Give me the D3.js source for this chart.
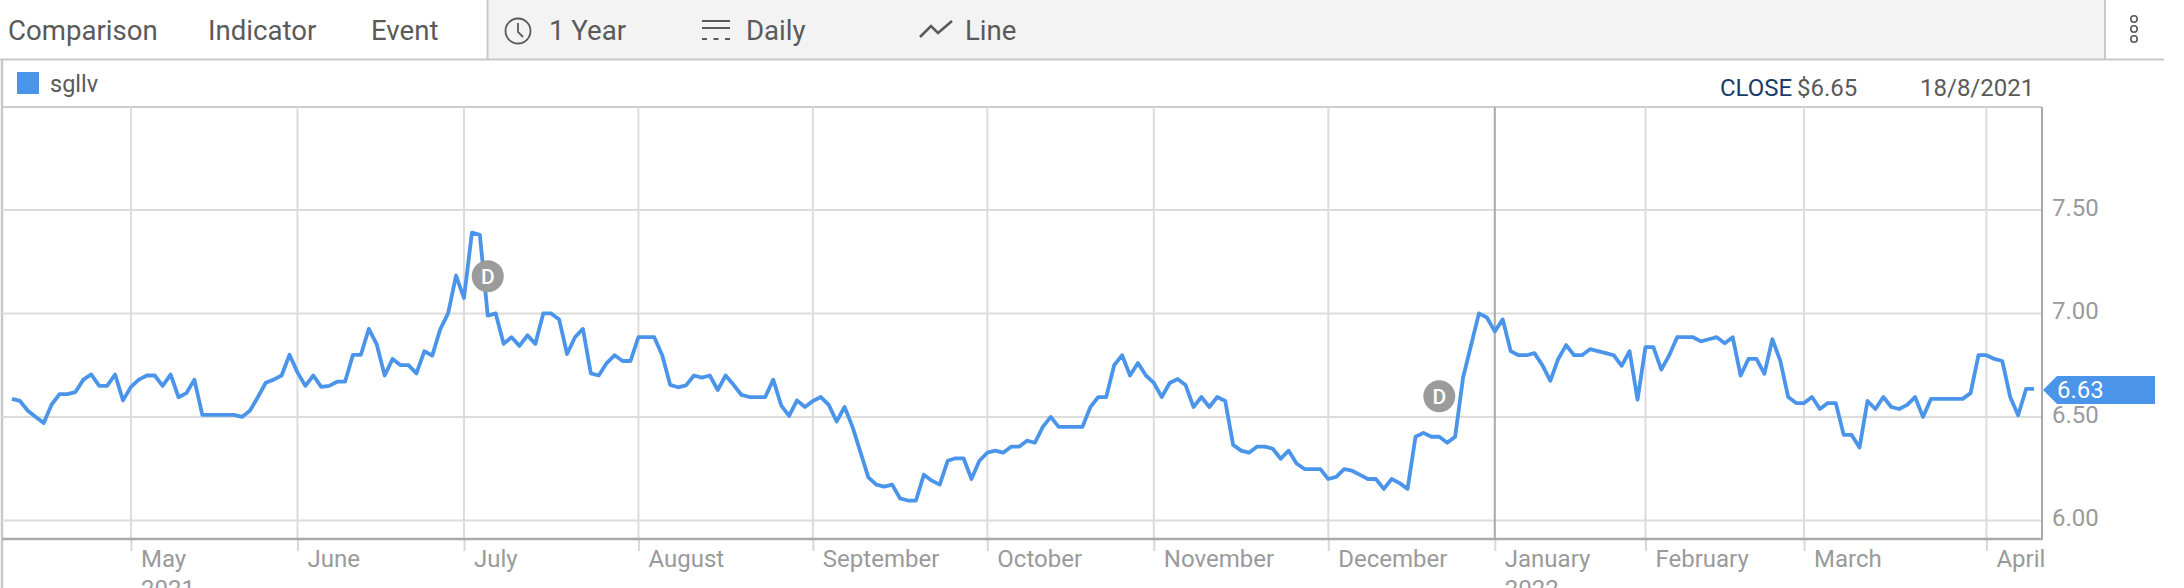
<!DOCTYPE html>
<html><head><meta charset="utf-8">
<script src="https://cdnjs.cloudflare.com/ajax/libs/d3/7.8.5/d3.min.js"></script>
<style>html,body{margin:0;padding:0;background:#fff;overflow:hidden}svg{display:block}text{font-family:Roboto,sans-serif}</style>
</head><body><svg id="c" width="2184" height="588"></svg>
<script>
const apr21=[6.587,6.577,6.53,6.50,6.47,6.56,6.61,6.61,6.62,6.68,6.705,6.65,6.65,6.705,6.58];
const may21=[6.645,6.68,6.70,6.70,6.65,6.705,6.595,6.615,6.68,6.51,6.51,6.51,6.51,6.51,6.50,6.53,6.595,6.665,6.68,6.70,6.80];
const jun21=[6.715,6.65,6.70,6.645,6.65,6.67,6.67,6.80,6.80,6.925,6.85,6.70,6.78,6.75,6.75,6.71,6.817,6.796,6.923,7.00,7.183];
const jul21=[7.074,7.39,7.38,6.989,7.00,6.853,6.885,6.843,6.894,6.853,7.00,7.00,6.971,6.804,6.885,6.925,6.71,6.70,6.76,6.798,6.77,6.77];
const aug21=[6.885,6.885,6.885,6.798,6.655,6.643,6.652,6.70,6.69,6.70,6.63,6.70,6.655,6.606,6.596,6.596,6.596,6.68,6.556,6.505,6.58,6.548];
const sep21=[6.577,6.596,6.558,6.478,6.548,6.452,6.33,6.208,6.173,6.163,6.173,6.106,6.096,6.096,6.221,6.192,6.173,6.288,6.30,6.30,6.20,6.288];
const oct21=[6.327,6.337,6.327,6.356,6.356,6.385,6.375,6.452,6.50,6.452,6.452,6.452,6.452,6.548,6.596,6.596,6.75,6.798,6.70,6.76,6.70];
const nov21=[6.664,6.596,6.664,6.683,6.654,6.548,6.596,6.548,6.596,6.577,6.365,6.337,6.327,6.356,6.356,6.346,6.298,6.337,6.275,6.248,6.248,6.248];
const dec21=[6.20,6.21,6.248,6.24,6.22,6.20,6.20,6.152,6.20,6.18,6.152,6.404,6.423,6.404,6.404,6.375,6.404,6.69,6.845,7.00,6.98];
const jan22=[6.913,6.971,6.818,6.798,6.798,6.808,6.75,6.674,6.78,6.847,6.798,6.798,6.827,6.818,6.808,6.798,6.747,6.817,6.583];
const feb22=[6.837,6.837,6.728,6.798,6.885,6.885,6.885,6.865,6.875,6.885,6.856,6.885,6.70,6.78,6.78,6.708,6.875,6.772,6.596,6.567];
const mar22=[6.567,6.596,6.538,6.567,6.567,6.413,6.413,6.352,6.577,6.538,6.596,6.548,6.538,6.558,6.596,6.50,6.587,6.587,6.587,6.587,6.587,6.615,6.798];
const apr22=[6.798,6.78,6.77,6.596,6.508,6.635,6.635];

const monthData=[apr21,may21,jun21,jul21,aug21,sep21,oct21,nov21,dec21,jan22,feb22,mar22,apr22];
const monthLabels=[null,["May","2021"],["June"],["July"],["August"],["September"],["October"],["November"],["December"],["January","2022"],["February"],["March"],["April"]];
const priceTicks=[6,6.5,7,7.5];
const dividendIdx=[60,180];
const dividendVal=[7.18,6.60];
const lastLabel="6.63", lastValue=6.63;
const crosshairMonth="January";
const toolLeft=["Comparison","Indicator","Event"];
const toolRight=["1 Year","Daily","Line"];

const values=monthData.flat();
let run=0; const monthStart=monthData.map(m=>{const s=run;run+=m.length;return s;});

const blue="#4a94ea",grid="#dcdcdc",axisC="#aaaaaa",txt="#5a5a5a",lab="#9a9a9a";
const L=2,R=2042,T=107,B=539;
const x=d3.scaleLinear().domain([0,values.length-1]).range([12,2034]);
const y=d3.scaleLinear().domain([6.5,7]).range([416.9,313.4]);
const svg=d3.select("#c");

// toolbar
svg.append("rect").attr("x",487).attr("y",0).attr("width",1618).attr("height",59).attr("fill","#f3f3f3");
svg.append("line").attr("x1",487.5).attr("x2",487.5).attr("y1",0).attr("y2",60).attr("stroke","#c8c8c8").attr("stroke-width",2);
svg.append("line").attr("x1",2105).attr("x2",2105).attr("y1",0).attr("y2",60).attr("stroke","#c8c8c8").attr("stroke-width",2);
svg.append("line").attr("x1",0).attr("x2",2164).attr("y1",59.5).attr("y2",59.5).attr("stroke","#c8c8c8").attr("stroke-width",2);
const tX=[8,208,371],rX=[549,746,965],fs=27.6;
svg.selectAll(".tl").data(toolLeft).join("text").attr("x",(d,i)=>tX[i]).attr("y",40).attr("font-size",fs).attr("fill",txt).text(d=>d);
svg.selectAll(".tr").data(toolRight).join("text").attr("x",(d,i)=>rX[i]).attr("y",40).attr("font-size",fs).attr("fill",txt).text(d=>d);
// clock icon
svg.append("circle").attr("cx",518).attr("cy",31).attr("r",12.5).attr("fill","none").attr("stroke",txt).attr("stroke-width",1.8);
svg.append("path").attr("d","M518 23V32L523 37").attr("fill","none").attr("stroke",txt).attr("stroke-width",1.8);
// daily icon
svg.append("path").attr("d","M702 21H730M702 28H730").attr("stroke",txt).attr("stroke-width",2).attr("fill","none");
svg.append("path").attr("d","M702 39H730").attr("stroke",txt).attr("stroke-width",2).attr("stroke-dasharray","5 6.5").attr("fill","none");
// line icon
svg.append("path").attr("d","M920 37L931 26L938 33L952 21").attr("fill","none").attr("stroke",txt).attr("stroke-width",2.6);
// dots
svg.selectAll(".dot").data([19,29,39]).join("circle").attr("cx",2134).attr("cy",d=>d).attr("r",3.2).attr("fill","none").attr("stroke",txt).attr("stroke-width",1.6);

// legend and readout
svg.append("rect").attr("x",17).attr("y",72).attr("width",22).attr("height",22).attr("fill",blue);
svg.append("text").attr("x",50).attr("y",92).attr("font-size",23.5).attr("fill",txt).text("sgllv");
svg.append("text").attr("x",1720).attr("y",96).attr("font-size",24).attr("fill","#1b3a6b").text("CLOSE");
svg.append("text").attr("x",1797).attr("y",96).attr("font-size",24).attr("fill",txt).text("$6.65");
svg.append("text").attr("x",1920).attr("y",96).attr("font-size",24).attr("fill",txt).text("18/8/2021");

// frame
svg.append("line").attr("x1",2).attr("x2",2).attr("y1",60).attr("y2",588).attr("stroke","#c8c8c8").attr("stroke-width",2.4);
svg.append("line").attr("x1",L).attr("x2",R).attr("y1",T).attr("y2",T).attr("stroke","#cccccc").attr("stroke-width",2);

// horizontal grid
svg.selectAll(".hg").data(priceTicks).join("line").attr("x1",L).attr("x2",R).attr("y1",d=>y(d)).attr("y2",d=>y(d)).attr("stroke",grid).attr("stroke-width",2);

// month axis
const tickIdx=monthStart.slice(1);
const xAxis=d3.axisBottom(x).tickValues(tickIdx).tickSize(12).tickFormat("");
const gx=svg.append("g").attr("transform",`translate(0,${B})`).call(xAxis);
gx.select(".domain").remove();
gx.selectAll(".tick line").attr("stroke","#d8d8d8").attr("stroke-width",2);
svg.selectAll(".vg").data(tickIdx).join("line").attr("x1",d=>x(d)).attr("x2",d=>x(d)).attr("y1",T).attr("y2",B)
  .attr("stroke",(d,i)=>monthLabels[i+1][0]===crosshairMonth?axisC:grid).attr("stroke-width",2);
svg.append("line").attr("x1",L).attr("x2",R+1).attr("y1",B).attr("y2",B).attr("stroke",axisC).attr("stroke-width",2.4);
svg.append("line").attr("x1",R).attr("x2",R).attr("y1",T).attr("y2",B).attr("stroke",axisC).attr("stroke-width",2);
const ml=svg.selectAll(".ml").data(tickIdx).join("text").attr("font-size",24).attr("fill",lab);
ml.each(function(d,i){
  const s=d3.select(this);
  monthLabels[i+1].forEach((t,k)=>s.append("tspan").attr("x",x(d)+10).attr("y",567+k*30).text(t));
});

// price axis labels
const yAxis=d3.axisRight(y).tickValues(priceTicks).tickSize(0).tickPadding(10).tickFormat(d3.format(".2f"));
const gy=svg.append("g").attr("transform",`translate(${R},0)`).call(yAxis);
gy.select(".domain").remove();
gy.selectAll("text").attr("font-size",24).attr("font-family","Roboto,sans-serif").attr("fill",lab).attr("dy","0.22em");

// line
const line=d3.line().x((d,i)=>x(i)).y(d=>y(d));
svg.append("path").datum(values).attr("d",line).attr("fill","none").attr("stroke",blue).attr("stroke-width",3.8).attr("stroke-linejoin","round");

// dividend markers
const dg=svg.selectAll(".div").data(dividendIdx).join("g").attr("transform",(d,i)=>`translate(${x(d)},${y(dividendVal[i])})`);
dg.append("circle").attr("r",16).attr("fill","#9b9b9b");
dg.append("text").attr("text-anchor","middle").attr("y",7.5).attr("font-size",21).attr("font-weight",500).attr("fill","#fff").attr("font-family","'Open Sans',sans-serif").text("D");

// last value tag
const ly=y(lastValue);
svg.append("path").attr("d",`M2043 ${ly}L2057 ${ly-14}H2155V${ly+14}H2057Z`).attr("fill",blue);
svg.append("text").attr("x",2057).attr("y",ly+8.5).attr("font-size",24).attr("fill","#fff").text(lastLabel);
</script></body></html>
